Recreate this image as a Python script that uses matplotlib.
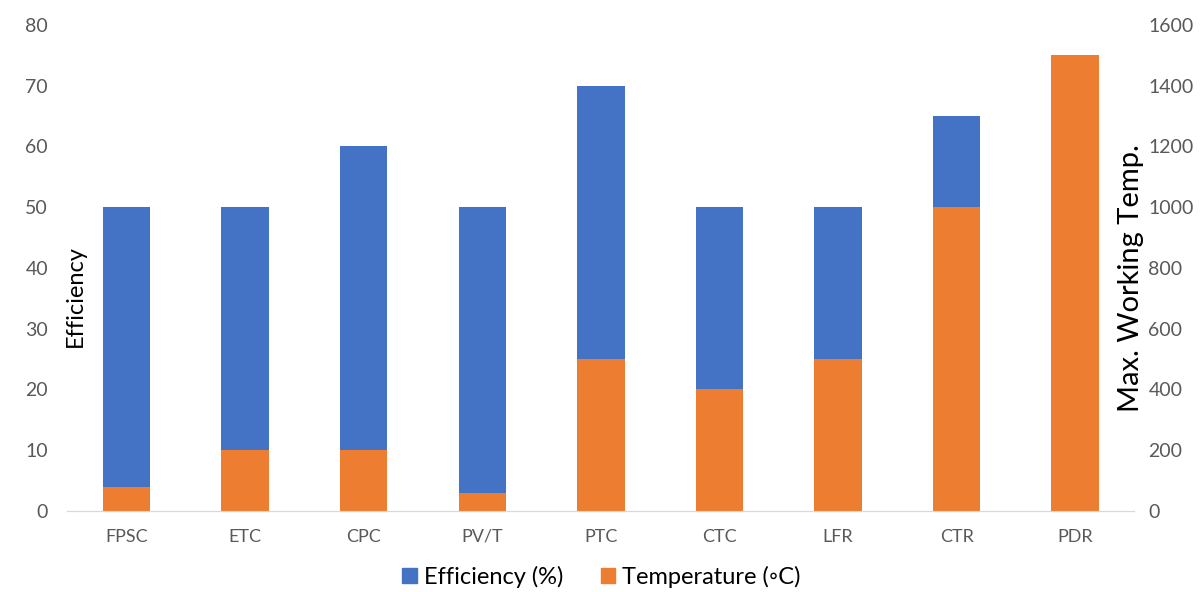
import numpy as np
import matplotlib.pyplot as plt
from matplotlib.patches import Patch

# data
collectors = ['FPSC', 'ETC', 'CPC', 'PV/T', 'PTC', 'CTC', 'LFR', 'CTR', 'PDR']
efficiency = [50, 50, 60, 50, 70, 50, 50, 65, 0]          # %
max_temp = [80, 200, 200, 60, 500, 400, 500, 1000, 1500]  # deg C

blue = '#4472C4'
orange = '#ED7D31'
tick_grey = '#595959'

plt.rcParams['font.family'] = ['Lato', 'DejaVu Sans']

fig = plt.figure(figsize=(12.03, 5.92), dpi=100)
ax = fig.add_axes([0.056, 0.137, 0.887, 0.821])
ax2 = ax.twinx()

x = np.arange(len(collectors))
ax.bar(x, efficiency, width=0.4, color=blue, zorder=2)
ax2.bar(x, max_temp, width=0.4, color=orange, zorder=2)

ax.set_xlim(-0.5, len(collectors) - 0.5)
ax.set_ylim(0, 80)
ax2.set_ylim(0, 1600)
ax.set_yticks(np.arange(0, 81, 10))
ax2.set_yticks(np.arange(0, 1601, 200))
ax.set_xticks(x)
ax.set_xticklabels(collectors)

for a in (ax, ax2):
    for s in ('top', 'left', 'right'):
        a.spines[s].set_visible(False)
    a.spines['bottom'].set_color('#D9D9D9')
    a.tick_params(length=0, colors=tick_grey, labelsize=14)
ax.tick_params(axis='y', pad=14)
ax2.tick_params(axis='y', pad=10)
ax.tick_params(axis='x', pad=13, labelsize=13)

fig.text(0.063, 0.5, 'Efficiency', rotation=90, ha='center', va='center', fontsize=17)
fig.text(0.940, 0.53, 'Max. Working Temp.', rotation=90, ha='center', va='center', fontsize=21)

handles = [Patch(color=blue, label='Efficiency (%)'),
           Patch(color=orange, label='Temperature (\u25e6C)')]
fig.legend(handles=handles, loc='center', bbox_to_anchor=(0.5, 0.025), ncol=2,
           frameon=False, fontsize=17, handlelength=0.6, handleheight=0.6,
           handletextpad=0.3, columnspacing=1.6)

fig.savefig('out.png', dpi=100)
